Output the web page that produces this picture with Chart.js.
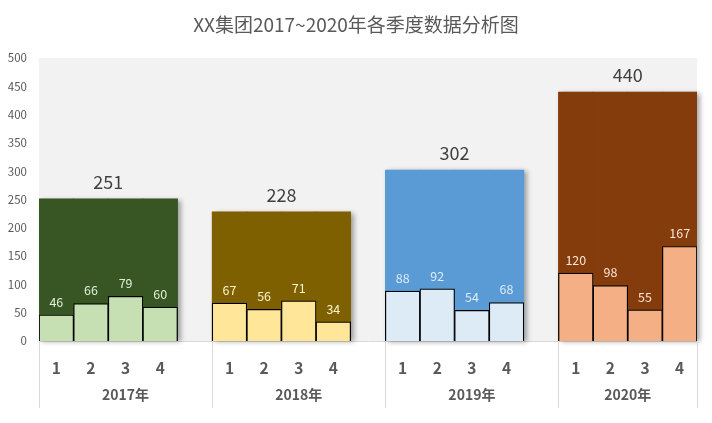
<!DOCTYPE html>
<html>
<head>
<meta charset="utf-8">
<script src="https://cdn.jsdelivr.net/npm/chart.js@4.4.0/dist/chart.umd.min.js"></script>
<style>
  html, body { margin: 0; padding: 0; background: #fff; }
  #wrap { width: 712px; height: 423px; }
</style>
</head>
<body>
<div id="wrap"><canvas id="chart" width="712" height="423"></canvas></div>
<script>
// data
const years = ['2017年', '2018年', '2019年', '2020年'];
const quarters = ['1', '2', '3', '4'];
const totals = [251, 228, 302, 440];
const q2017 = [46, 66, 79, 60];
const q2018 = [67, 56, 71, 34];
const q2019 = [88, 92, 54, 68];
const q2020 = [120, 98, 55, 167];
const yTicks = [0, 50, 100, 150, 200, 250, 300, 350, 400, 450, 500];

const bigColors = ['#375623', '#7f6000', '#5b9bd5', '#843c0c'];
const smallColors = ['#c6e0b4', '#ffe699', '#ddebf7', '#f4b084'];
const labelColors = ['#e2efda', '#fff2cc', '#ddebf7', '#fce4d6'];

// build 19 slots: 4 quarters per year + 1 empty slot between years
const quarterSets = [q2017, q2018, q2019, q2020];
const slotLabels = [], smallData = [], bigData = [], smallFill = [], bigFill = [], slotYear = [];
quarterSets.forEach((qs, i) => {
    qs.forEach((v, j) => {
        slotLabels.push(quarters[j]);
        smallData.push(v);
        bigData.push(totals[i]);
        smallFill.push(smallColors[i]);
        bigFill.push(bigColors[i]);
        slotYear.push(i);
    });
    if (i < quarterSets.length - 1) {
        slotLabels.push('');
        smallData.push(null);
        bigData.push(null);
        smallFill.push('rgba(0,0,0,0)');
        bigFill.push('rgba(0,0,0,0)');
        slotYear.push(-1);
    }
});

const txt = '#595959';
const fontFamily = '"Noto Sans CJK SC", "Noto Sans", sans-serif';

const decor = {
    id: 'decor',
    beforeDraw(chart) {
        const { ctx, chartArea } = chart;
        ctx.save();
        ctx.fillStyle = '#f2f2f2';
        ctx.fillRect(chartArea.left, chartArea.top, chartArea.right - chartArea.left, chartArea.bottom - chartArea.top);
        ctx.restore();
    },
    beforeDatasetDraw(chart, args) {
        if (args.index !== 0) return;
        // soft shadow behind each year block
        const ctx = chart.ctx;
        const meta = chart.getDatasetMeta(0);
        ctx.save();
        ctx.shadowColor = 'rgba(0,0,0,0.35)';
        ctx.shadowBlur = 5;
        ctx.shadowOffsetX = 3;
        ctx.shadowOffsetY = 1;
        totals.forEach((t, i) => {
            const a = meta.data[i * 5], b = meta.data[i * 5 + 3];
            const l = a.x - a.width / 2, r = b.x + b.width / 2;
            ctx.fillStyle = bigColors[i];
            ctx.fillRect(l, a.y, r - l, a.base - a.y);
        });
        ctx.restore();
    },
    afterDraw(chart) {
        const { ctx, chartArea } = chart;
        const x = chart.scales.x;
        const half = x.getPixelForValue(1) - x.getPixelForValue(0);
        ctx.save();
        // title
        ctx.fillStyle = txt;
        ctx.font = '19px ' + fontFamily;
        ctx.textAlign = 'center';
        ctx.textBaseline = 'middle';
        ctx.fillText('XX集团2017~2020年各季度数据分析图', 356, 25);

        // separators and year labels
        const bigMeta = chart.getDatasetMeta(0);
        const smallMeta = chart.getDatasetMeta(1);
        const edges = [];
        years.forEach((y, i) => edges.push(x.getPixelForValue(i * 5) - half / 2));
        edges.push(chartArea.right);
        ctx.strokeStyle = '#d9d9d9';
        ctx.lineWidth = 1;
        edges.forEach(e => {
            ctx.beginPath();
            ctx.moveTo(Math.round(e) + 0.5, chartArea.bottom);
            ctx.lineTo(Math.round(e) + 0.5, chartArea.bottom + 67);
            ctx.stroke();
        });
        ctx.font = 'bold 14px ' + fontFamily;
        ctx.fillStyle = txt;
        years.forEach((y, i) => {
            ctx.fillText(y, (edges[i] + edges[i + 1]) / 2, chartArea.bottom + 54);
        });

        // total labels
        ctx.fillStyle = '#404040';
        ctx.font = '18px ' + fontFamily;
        totals.forEach((t, i) => {
            const a = bigMeta.data[i * 5], b = bigMeta.data[i * 5 + 3];
            ctx.fillText(String(t), (a.x + b.x) / 2, a.y - 17);
        });

        // quarter labels
        ctx.font = '12.5px ' + fontFamily;
        smallMeta.data.forEach((el, k) => {
            if (smallData[k] == null) return;
            ctx.fillStyle = labelColors[slotYear[k]];
            ctx.fillText(String(smallData[k]), el.x, el.y - 13);
        });
        ctx.restore();
    }
};

new Chart(document.getElementById('chart').getContext('2d'), {
    type: 'bar',
    data: {
        labels: slotLabels,
        datasets: [{
            data: bigData,
            backgroundColor: bigFill,
            borderWidth: 0,
            barPercentage: 1,
            categoryPercentage: 1,
            grouped: false,
            order: 1
        }, {
            data: smallData,
            backgroundColor: smallFill,
            borderColor: '#000',
            borderWidth: 1.2,
            barPercentage: 1,
            categoryPercentage: 1,
            grouped: false,
            order: 0
        }]
    },
    options: {
        responsive: false,
        animation: false,
        layout: { padding: { top: 58, right: 15, left: 0, bottom: 0 } },
        plugins: {
            legend: { display: false },
            tooltip: { enabled: false },
            title: { display: false }
        },
        scales: {
            x: {
                grid: { display: false },
                border: { display: true, color: '#d9d9d9' },
                ticks: {
                    color: txt,
                    font: { size: 15.5, weight: 'bold', family: fontFamily },
                    padding: 10,
                    maxRotation: 0,
                    autoSkip: false
                },
                afterFit(scale) { scale.height = 82; }
            },
            y: {
                min: 0,
                max: 500,
                grid: { display: false },
                border: { display: false },
                afterBuildTicks(scale) { scale.ticks = yTicks.map(v => ({ value: v })); },
                ticks: {
                    color: txt,
                    font: { size: 11.5, family: fontFamily },
                    padding: 4
                },
                afterFit(scale) { scale.width = 39; }
            }
        }
    },
    plugins: [decor]
});
</script>
</body>
</html>
